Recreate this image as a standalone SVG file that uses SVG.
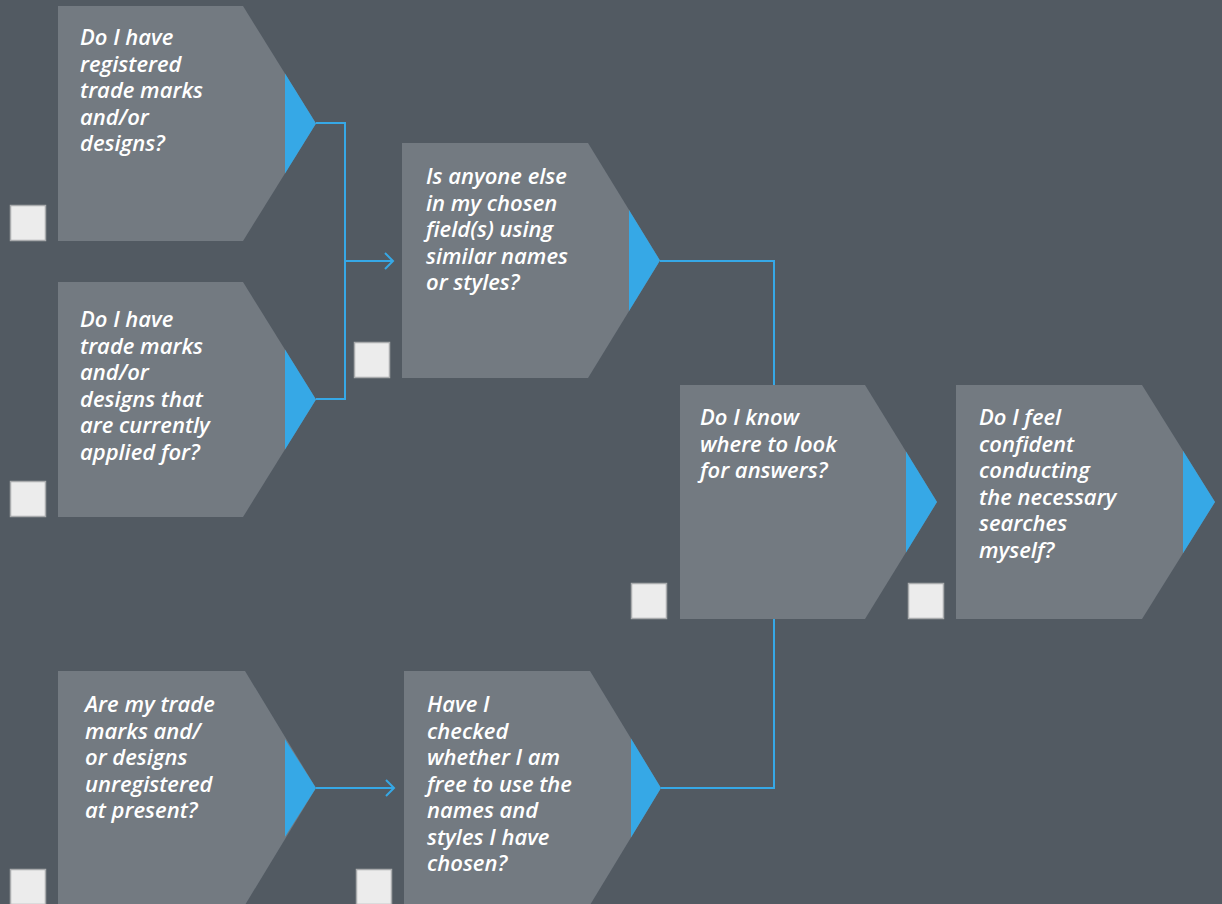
<svg xmlns="http://www.w3.org/2000/svg" width="1222" height="904" viewBox="0 0 1222 904">
<defs>
<style>
.bg{fill:#525a62}
.node{fill:#737a81}
.tip{fill:#36a8e6}
.box{fill:#ececec;stroke:#a9abad;stroke-width:1.5}
.lbl{font-family:"Open Sans","Noto Sans","Liberation Sans",sans-serif;font-style:italic;font-weight:600;font-size:22px;fill:#ffffff}
.conn{fill:none;stroke:#36a8e6;stroke-width:2}
</style>
<marker id="arr" markerWidth="12" markerHeight="18" refX="10" refY="9" orient="auto" markerUnits="userSpaceOnUse">
<polyline points="2,1 10,9 2,17" fill="none" stroke="#36a8e6" stroke-width="2"/>
</marker>
</defs>
<rect class="bg" x="0" y="0" width="1222" height="904"/>
<g id="connectors">
<polyline class="conn" points="316,123 345,123 345,399 316,399"/>
<line class="conn" x1="345" y1="261" x2="393" y2="261" marker-end="url(#arr)"/>
<polyline class="conn" points="660,261 774,261 774,788 661,788"/>
<line class="conn" x1="316" y1="788" x2="394" y2="788" marker-end="url(#arr)"/>
</g>
<g id="node1">
<polygon class="node" points="58,6 243,6 316,123.5 243,241 58,241"/>
<polygon class="tip" points="285,73.6 316,123.5 285,173.4"/>
<rect class="box" x="10.5" y="205.5" width="35" height="35"/>
<text class="lbl" x="80" y="45"><tspan x="80">Do I have</tspan><tspan x="80" dy="26.5">registered</tspan><tspan x="80" dy="26.5">trade marks</tspan><tspan x="80" dy="26.5">and/or</tspan><tspan x="80" dy="26.5">designs?</tspan></text>
</g>
<g id="node2">
<polygon class="node" points="58,282 243,282 316,399.5 243,517 58,517"/>
<polygon class="tip" points="285,349.6 316,399.5 285,449.4"/>
<rect class="box" x="10.5" y="481.5" width="35" height="35"/>
<text class="lbl" x="80" y="327"><tspan x="80">Do I have</tspan><tspan x="80" dy="26.5">trade marks</tspan><tspan x="80" dy="26.5">and/or</tspan><tspan x="80" dy="26.5">designs that</tspan><tspan x="80" dy="26.5">are currently</tspan><tspan x="80" dy="26.5">applied for?</tspan></text>
</g>
<g id="node3">
<polygon class="node" points="402,143 588,143 660,260.5 588,378 402,378"/>
<polygon class="tip" points="629,209.9 660,260.5 629,311.1"/>
<rect class="box" x="354.5" y="342.5" width="35" height="35"/>
<text class="lbl" x="426" y="184"><tspan x="426">Is anyone else</tspan><tspan x="426" dy="26.5">in my chosen</tspan><tspan x="426" dy="26.5">field(s) using</tspan><tspan x="426" dy="26.5">similar names</tspan><tspan x="426" dy="26.5">or styles?</tspan></text>
</g>
<g id="node4">
<polygon class="node" points="680,385 865,385 937,502 865,619 680,619"/>
<polygon class="tip" points="906,451.6 937,502 906,552.4"/>
<rect class="box" x="631.5" y="583.5" width="35" height="35"/>
<text class="lbl" x="700" y="425"><tspan x="700">Do I know</tspan><tspan x="700" dy="26.5">where to look</tspan><tspan x="700" dy="26.5">for answers?</tspan></text>
</g>
<g id="node5">
<polygon class="node" points="956,385 1142,385 1215,502 1142,619 956,619"/>
<polygon class="tip" points="1183,450.7 1215,502 1183,553.3"/>
<rect class="box" x="908.5" y="583.5" width="35" height="35"/>
<text class="lbl" x="979" y="425"><tspan x="979">Do I feel</tspan><tspan x="979" dy="26.5">confident</tspan><tspan x="979" dy="26.5">conducting</tspan><tspan x="979" dy="26.5">the necessary</tspan><tspan x="979" dy="26.5">searches</tspan><tspan x="979" dy="26.5">myself?</tspan></text>
</g>
<g id="node6">
<polygon class="node" points="58,671 245,671 316,788 245,905 58,905"/>
<polygon class="tip" points="285,739.3 316,788 285,836.7"/>
<rect class="box" x="10.5" y="869.5" width="35" height="35"/>
<text class="lbl" x="85" y="712"><tspan x="85">Are my trade</tspan><tspan x="85" dy="26.5">marks and/</tspan><tspan x="85" dy="26.5">or designs</tspan><tspan x="85" dy="26.5">unregistered</tspan><tspan x="85" dy="26.5">at present?</tspan></text>
</g>
<g id="node7">
<polygon class="node" points="404,671 590,671 661,788 590,905 404,905"/>
<polygon class="tip" points="631,738.6 661,788 631,837.4"/>
<rect class="box" x="356.5" y="869.5" width="35" height="35"/>
<text class="lbl" x="427" y="712"><tspan x="427">Have I</tspan><tspan x="427" dy="26.5">checked</tspan><tspan x="427" dy="26.5">whether I am</tspan><tspan x="427" dy="26.5">free to use the</tspan><tspan x="427" dy="26.5">names and</tspan><tspan x="427" dy="26.5">styles I have</tspan><tspan x="427" dy="26.5">chosen?</tspan></text>
</g>
</svg>
